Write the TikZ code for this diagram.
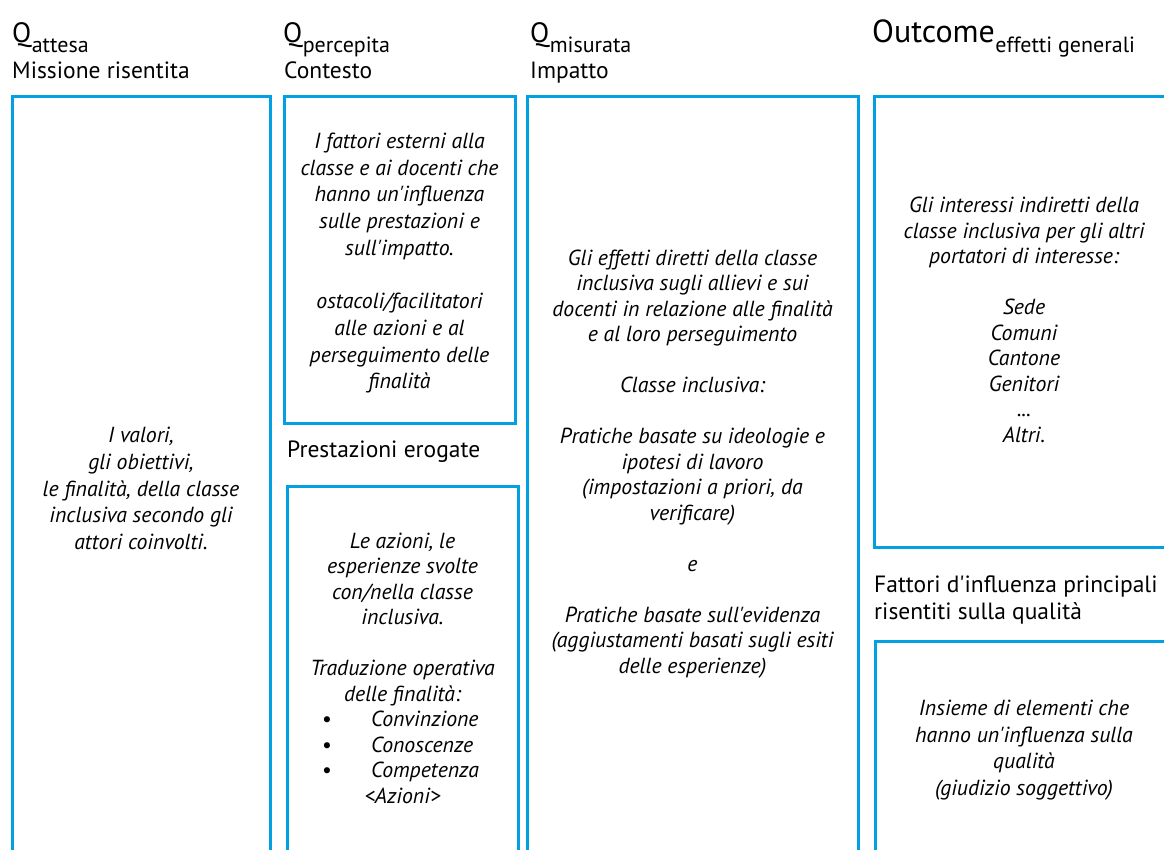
\documentclass[tikz,border=0pt]{standalone}
\usepackage{fontspec}
\setmainfont{PT Sans}[Ligatures=TeXOff]
\definecolor{boxblue}{RGB}{0,160,227}
\begin{document}
\begin{tikzpicture}[x=1pt,y=-1pt,
  box/.style={draw=boxblue,line width=3pt},
  head/.style={inner sep=0pt,anchor=base west,font=\fontsize{23.5}{28}\selectfont},
  bigq/.style={inner sep=0pt,anchor=base west,font=\fontsize{28}{32}\selectfont},
  sub/.style={inner sep=0pt,anchor=base west,font=\fontsize{22}{26}\selectfont},
  body/.style={inner sep=0pt,anchor=base,font=\fontsize{21.8}{26}\selectfont\itshape},
  bodyl/.style={inner sep=0pt,anchor=base west,font=\fontsize{21.8}{26}\selectfont\itshape},
  bul/.style={inner sep=0pt,anchor=base,font=\fontsize{21.8}{26}\selectfont}]
\useasboundingbox (0,0) rectangle (1164,849);
\clip (0,0) rectangle (1164,849);
% boxes
\draw[box] (12.5,96) rectangle (270,870);
\draw[box] (284,96) rectangle (515,423);
\draw[box] (287,486) rectangle (518,870);
\draw[box] (527,96) rectangle (858,870);
\draw[box] (874,96) rectangle (1190,547);
\draw[box] (875,641) rectangle (1190,870);
% headers
\node[bigq] (q1) at (12,42) {Q};
\node[sub] (q1s) at ([yshift=-10pt]q1.base east) {attesa};
\node[head] (h1) at (12,78) {Missione risentita};
\node[bigq] (q2) at (283,42) {Q};
\node[sub] (q2s) at ([yshift=-10pt]q2.base east) {percepita};
\node[head] (h2) at (284,78) {Contesto};
\node[bigq] (q3) at (530,42) {Q};
\node[sub] (q3s) at ([yshift=-10pt]q3.base east) {misurata};
\node[head] (h3) at (530,78) {Impatto};
\node[bigq,font=\fontsize{32}{36}\selectfont] (q4) at (872,42) {Outcome};
\node[sub] (q4s) at ([yshift=-10pt]q4.base east) {effetti generali};
\node[head] (h5) at (287,457) {Prestazioni erogate};
\node[head] (h6a) at (874,592) {Fattori d'influenza principali};
\node[head] (h6b) at (874,619) {risentiti sulla qualità};
% box 1
\foreach \k/\txt in {0/{I valori,},1/{gli obiettivi,},2/{le finalità, della classe},3/{inclusiva secondo gli},4/{attori coinvolti.}}
  \node[body] (t1-\k) at (141,{442.5+26.75*\k}) {\txt};
% box 2
\foreach \k/\txt in {0/{I fattori esterni alla},1/{classe e ai docenti che},2/{hanno un'influenza},3/{sulle prestazioni e},4/{sull'impatto.},6/{ostacoli/facilitatori},7/{alle azioni e al},8/{perseguimento delle},9/{finalità}}
  \node[body] (t2-\k) at (399.5,{148.5+26.7*\k}) {\txt};
% box 3
\foreach \k/\txt in {0/{Le azioni, le},1/{esperienze svolte},2/{con/nella classe},3/{inclusiva.},5/{Traduzione operativa},6/{delle finalità:},10/{<Azioni>}}
  \node[body] (t3-\k) at (402.5,{548+25.5*\k}) {\txt};
\foreach \k/\txt in {7/{Convinzione},8/{Conoscenze},9/{Competenza}}{
  \node[bul] (b3-\k) at (327,{548+25.5*\k}) {•};
  \node[bodyl] (t3-\k) at (371,{548+25.5*\k}) {\txt};
}
% box 4
\foreach \k/\txt in {0/{Gli effetti diretti della classe},1/{inclusiva sugli allievi e sui},2/{docenti in relazione alle finalità},3/{e al loro perseguimento},5/{Classe inclusiva:},7/{Pratiche basate su ideologie e},8/{ipotesi di lavoro},9/{(impostazioni a priori, da},10/{verificare)},12/{e},14/{Pratiche basate sull'evidenza},15/{(aggiustamenti basati sugli esiti},16/{delle esperienze)}}
  \node[body] (t4-\k) at (692.5,{265+25.5*\k}) {\txt};
% box 5
\foreach \k/\txt in {0/{Gli interessi indiretti della},1/{classe inclusiva per gli altri},2/{portatori di interesse:},4/{Sede},5/{Comuni},6/{Cantone},7/{Genitori},8/{...},9/{Altri.}}
  \node[body] (t5-\k) at (1024,{212.5+25.5*\k}) {\txt};
% box 6
\foreach \k/\txt in {0/{Insieme di elementi che},1/{hanno un'influenza sulla},2/{qualità},3/{(giudizio soggettivo)}}
  \node[body] (t6-\k) at (1024,{715.5+26.5*\k}) {\txt};
\end{tikzpicture}
\end{document}
